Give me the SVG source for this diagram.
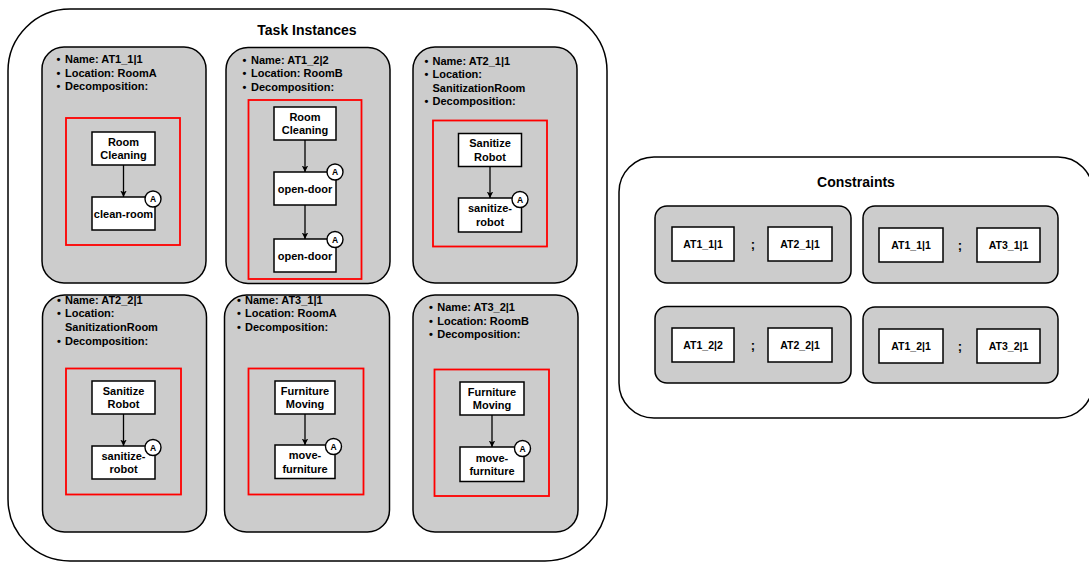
<svg xmlns="http://www.w3.org/2000/svg" width="1089" height="562" viewBox="0 0 1089 562">
  <defs>
    <marker id="arrow" viewBox="0 0 10 10" refX="10" refY="5" markerWidth="6.5" markerHeight="6.5" markerUnits="userSpaceOnUse" orient="auto">
      <path d="M0,0 L10,5 L0,10 L2.5,5 z" fill="#000"/>
    </marker>
    <style>
      text { font-family: "Liberation Sans", Arial, Helvetica, sans-serif; font-weight: bold; fill: #000; }
      .container { fill: #fff; stroke: #000; stroke-width: 1.5; }
      .card { fill: #ccc; stroke: #000; stroke-width: 1.5; }
      .frame { fill: none; stroke: #ff0000; stroke-width: 1.8; }
      .task { fill: #fff; stroke: #000; stroke-width: 1.5; }
      .badge { fill: #fff; stroke: #000; stroke-width: 1.4; }
      .title { font-size: 14px; text-anchor: middle; }
      .info { font-size: 11px; }
      .label { font-size: 11px; text-anchor: middle; }
      .badge-t { font-size: 8.5px; text-anchor: middle; }
      .ref { font-size: 10.5px; text-anchor: middle; }
      .seq { font-size: 13px; text-anchor: middle; }
      .edge { stroke: #000; stroke-width: 1.3; fill: none; marker-end: url(#arrow); }
    </style>
  </defs>

  <!-- Task Instances container -->
  <g id="task-instances">
    <rect class="container" x="8" y="9" width="599" height="552" rx="62" ry="62"/>
    <text class="title" x="307" y="35">Task Instances</text>
  </g>

  <!-- Constraints container -->
  <g id="constraints">
    <rect class="container" x="619" y="157" width="474" height="261" rx="35" ry="35"/>
    <text class="title" x="856" y="186.5">Constraints</text>
  </g>

  <!-- Instance AT1_1|1 -->
  <g id="instance-at1-1-1">
    <rect class="card" x="42" y="47" width="164" height="236" rx="22" ry="22"/>
    <text class="info" x="56.5" y="63.3">•</text>
    <text class="info" x="65" y="63.3">Name: AT1_1|1</text>
    <text class="info" x="56.5" y="76.6">•</text>
    <text class="info" x="65" y="76.6">Location: RoomA</text>
    <text class="info" x="56.5" y="89.9">•</text>
    <text class="info" x="65" y="89.9">Decomposition:</text>
    <rect class="frame" x="66" y="118" width="114" height="127"/>
    <g id="at1-1-1-room-cleaning">
      <rect class="task" x="92" y="132" width="63" height="33"/>
      <text class="label" x="123.5" y="145.8">Room</text>
      <text class="label" x="123.5" y="159.3">Cleaning</text>
    </g>
    <g id="at1-1-1-clean-room">
      <rect class="task" x="92" y="197" width="63" height="33"/>
      <text class="label" x="123.5" y="217.5">clean-room</text>
      <circle class="badge" cx="153" cy="199" r="8"/>
      <text class="badge-t" x="153" y="202">A</text>
    </g>
  </g>

  <!-- Instance AT1_2|2 -->
  <g id="instance-at1-2-2">
    <rect class="card" x="226" y="47.5" width="164" height="236" rx="22" ry="22"/>
    <text class="info" x="242.5" y="64">•</text>
    <text class="info" x="251" y="64">Name: AT1_2|2</text>
    <text class="info" x="242.5" y="77.3">•</text>
    <text class="info" x="251" y="77.3">Location: RoomB</text>
    <text class="info" x="242.5" y="90.6">•</text>
    <text class="info" x="251" y="90.6">Decomposition:</text>
    <rect class="frame" x="248.5" y="100" width="113" height="179"/>
    <g id="at1-2-2-room-cleaning">
      <rect class="task" x="274" y="107" width="62" height="33"/>
      <text class="label" x="305" y="120.8">Room</text>
      <text class="label" x="305" y="134.3">Cleaning</text>
    </g>
    <g id="at1-2-2-open-door-1">
      <rect class="task" x="274" y="172" width="62" height="33"/>
      <text class="label" x="305" y="192.5">open-door</text>
      <circle class="badge" cx="335" cy="172" r="8"/>
      <text class="badge-t" x="335" y="175">A</text>
    </g>
    <g id="at1-2-2-open-door-2">
      <rect class="task" x="274" y="239" width="62" height="33"/>
      <text class="label" x="305" y="259.5">open-door</text>
      <circle class="badge" cx="335" cy="239.5" r="8"/>
      <text class="badge-t" x="335" y="242.5">A</text>
    </g>
  </g>

  <!-- Instance AT2_1|1 -->
  <g id="instance-at2-1-1">
    <rect class="card" x="413" y="47" width="164" height="236" rx="22" ry="22"/>
    <text class="info" x="424.5" y="65">•</text>
    <text class="info" x="432.5" y="65">Name: AT2_1|1</text>
    <text class="info" x="424.5" y="78.4">•</text>
    <text class="info" x="432.5" y="78.4">Location:</text>
    <text class="info" x="432.5" y="91.8">SanitizationRoom</text>
    <text class="info" x="424.5" y="105.2">•</text>
    <text class="info" x="432.5" y="105.2">Decomposition:</text>
    <rect class="frame" x="433" y="120.5" width="114" height="126"/>
    <g id="at2-1-1-sanitize-robot">
      <rect class="task" x="458.5" y="133.5" width="63" height="33"/>
      <text class="label" x="490" y="147.3">Sanitize</text>
      <text class="label" x="490" y="160.8">Robot</text>
    </g>
    <g id="at2-1-1-sanitize-robot-action">
      <rect class="task" x="458.5" y="198" width="63" height="34"/>
      <text class="label" x="490" y="212.3">sanitize-</text>
      <text class="label" x="490" y="225.8">robot</text>
      <circle class="badge" cx="520" cy="199.5" r="8"/>
      <text class="badge-t" x="520" y="202.5">A</text>
    </g>
  </g>

  <!-- Instance AT2_2|1 -->
  <g id="instance-at2-2-1">
    <rect class="card" x="42.5" y="295" width="164" height="237" rx="22" ry="22"/>
    <text class="info" x="57" y="303.5">•</text>
    <text class="info" x="65" y="303.5">Name: AT2_2|1</text>
    <text class="info" x="57" y="317.4">•</text>
    <text class="info" x="65" y="317.4">Location:</text>
    <text class="info" x="65" y="331.3">SanitizationRoom</text>
    <text class="info" x="57" y="345.2">•</text>
    <text class="info" x="65" y="345.2">Decomposition:</text>
    <rect class="frame" x="66" y="368.5" width="115" height="126"/>
    <g id="at2-2-1-sanitize-robot">
      <rect class="task" x="92" y="381" width="63" height="33"/>
      <text class="label" x="123.5" y="394.8">Sanitize</text>
      <text class="label" x="123.5" y="408.3">Robot</text>
    </g>
    <g id="at2-2-1-sanitize-robot-action">
      <rect class="task" x="92" y="446" width="63" height="33"/>
      <text class="label" x="123.5" y="459.8">sanitize-</text>
      <text class="label" x="123.5" y="473.3">robot</text>
      <circle class="badge" cx="153" cy="447.5" r="8"/>
      <text class="badge-t" x="153" y="450.5">A</text>
    </g>
  </g>

  <!-- Instance AT3_1|1 -->
  <g id="instance-at3-1-1">
    <rect class="card" x="224.5" y="295" width="165" height="237" rx="22" ry="22"/>
    <text class="info" x="237" y="303.5">•</text>
    <text class="info" x="245" y="303.5">Name: AT3_1|1</text>
    <text class="info" x="237" y="317.2">•</text>
    <text class="info" x="245" y="317.2">Location: RoomA</text>
    <text class="info" x="237" y="330.9">•</text>
    <text class="info" x="245" y="330.9">Decomposition:</text>
    <rect class="frame" x="248.5" y="368.5" width="115" height="126"/>
    <g id="at3-1-1-furniture-moving">
      <rect class="task" x="275" y="381" width="60" height="33"/>
      <text class="label" x="305" y="394.8">Furniture</text>
      <text class="label" x="305" y="408.3">Moving</text>
    </g>
    <g id="at3-1-1-move-furniture">
      <rect class="task" x="275" y="445" width="60" height="33.5"/>
      <text class="label" x="305" y="459">move-</text>
      <text class="label" x="305" y="472.5">furniture</text>
      <circle class="badge" cx="333.5" cy="446.5" r="8"/>
      <text class="badge-t" x="333.5" y="449.5">A</text>
    </g>
  </g>

  <!-- Instance AT3_2|1 -->
  <g id="instance-at3-2-1">
    <rect class="card" x="413" y="295" width="165" height="237" rx="22" ry="22"/>
    <text class="info" x="429" y="311">•</text>
    <text class="info" x="437.3" y="311">Name: AT3_2|1</text>
    <text class="info" x="429" y="324.5">•</text>
    <text class="info" x="437.3" y="324.5">Location: RoomB</text>
    <text class="info" x="429" y="338">•</text>
    <text class="info" x="437.3" y="338">Decomposition:</text>
    <rect class="frame" x="434.5" y="369.5" width="114.5" height="126.5"/>
    <g id="at3-2-1-furniture-moving">
      <rect class="task" x="460" y="382" width="64" height="33"/>
      <text class="label" x="492" y="395.8">Furniture</text>
      <text class="label" x="492" y="409.3">Moving</text>
    </g>
    <g id="at3-2-1-move-furniture">
      <rect class="task" x="460" y="447" width="64" height="34.5"/>
      <text class="label" x="492" y="461.5">move-</text>
      <text class="label" x="492" y="475">furniture</text>
      <circle class="badge" cx="522.5" cy="448.5" r="8"/>
      <text class="badge-t" x="522.5" y="451.5">A</text>
    </g>
  </g>

  <!-- Ordering constraints -->
  <g id="constraint-1">
    <rect class="card" x="655" y="206" width="196" height="77" rx="12" ry="12"/>
    <rect class="task" x="672" y="227" width="62" height="34"/>
    <text class="ref" x="703" y="247.5">AT1_1|1</text>
    <text class="seq" x="753" y="249">;</text>
    <rect class="task" x="768" y="227" width="64" height="34"/>
    <text class="ref" x="800" y="247.5">AT2_1|1</text>
  </g>
  <g id="constraint-2">
    <rect class="card" x="863" y="206" width="195" height="77" rx="12" ry="12"/>
    <rect class="task" x="879" y="228" width="64" height="34"/>
    <text class="ref" x="911" y="248.5">AT1_1|1</text>
    <text class="seq" x="960" y="250">;</text>
    <rect class="task" x="977" y="228" width="63" height="34"/>
    <text class="ref" x="1008.5" y="248.5">AT3_1|1</text>
  </g>
  <g id="constraint-3">
    <rect class="card" x="655" y="306.5" width="196" height="76.5" rx="12" ry="12"/>
    <rect class="task" x="672" y="328" width="62" height="34"/>
    <text class="ref" x="703" y="348.5">AT1_2|2</text>
    <text class="seq" x="753" y="350">;</text>
    <rect class="task" x="768" y="328" width="64" height="34"/>
    <text class="ref" x="800" y="348.5">AT2_2|1</text>
  </g>
  <g id="constraint-4">
    <rect class="card" x="863" y="307" width="195" height="76" rx="12" ry="12"/>
    <rect class="task" x="879" y="329" width="64" height="34"/>
    <text class="ref" x="911" y="349.5">AT1_2|1</text>
    <text class="seq" x="960" y="351">;</text>
    <rect class="task" x="977" y="329" width="63" height="34"/>
    <text class="ref" x="1008.5" y="349.5">AT3_2|1</text>
  </g>

  <!-- Decomposition links -->
  <g id="connectors">
    <path class="edge" d="M123.5,165 V197"/>
    <path class="edge" d="M305,140 V172"/>
    <path class="edge" d="M305,205 V239"/>
    <path class="edge" d="M490,166.5 V198"/>
    <path class="edge" d="M123.5,414 V446"/>
    <path class="edge" d="M305,414 V445"/>
    <path class="edge" d="M492,415 V447"/>
  </g>
</svg>
